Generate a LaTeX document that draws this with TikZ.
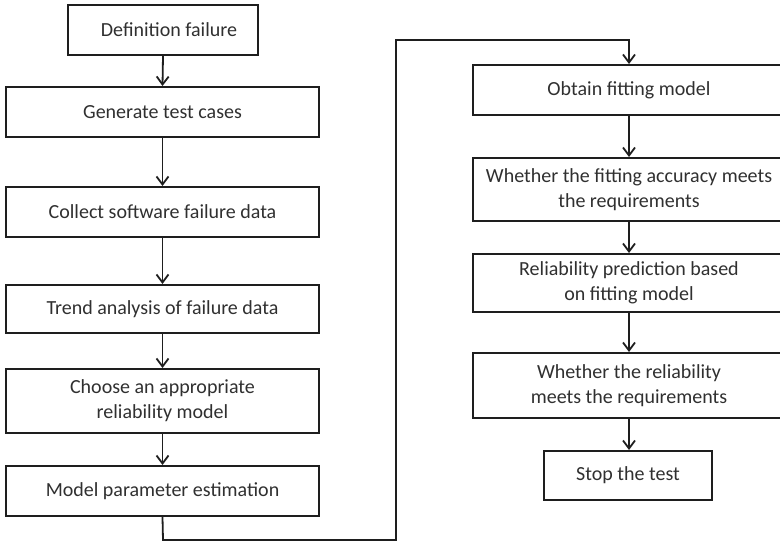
\documentclass[tikz,border=0pt]{standalone}
\usepackage{fontspec}
\setmainfont{Carlito}
\usetikzlibrary{arrows.meta}
\definecolor{txt}{HTML}{303030}
\definecolor{ln}{HTML}{1E1E1E}
\tikzset{
  box/.style={draw=ln, line width=2pt, fill=white, inner sep=0pt, align=center,
    text=txt, font=\fontsize{20}{25}\selectfont},
  conn/.style={draw=ln, line width=1.8pt},
  arr/.style={conn, -{Straight Barb[length=8pt,width=12pt,line width=1.8pt]}}
}
\begin{document}
\begin{tikzpicture}[x=1pt,y=-1pt]
\useasboundingbox (0,0) rectangle (780,545);
\clip (0,0) rectangle (780,545);
% left column
\node[box, minimum width=190pt, minimum height=50pt] (def) at (163,30) {\hspace{12pt}Definition failure};
\node[box, minimum width=313pt, minimum height=50pt] (gen) at (162.5,112) {Generate test cases};
\node[box, minimum width=313pt, minimum height=50pt] (col) at (162.5,212) {Collect software failure data};
\node[box, minimum width=313pt, minimum height=48pt] (trd) at (162.5,309) {Trend analysis of failure data};
\node[box, minimum width=313pt, minimum height=64pt] (cho) at (162.5,401) {Choose an appropriate\\reliability model};
\node[box, minimum width=313pt, minimum height=50pt] (mod) at (162.5,491) {Model parameter estimation};
% right column
\node[box, minimum width=312pt, minimum height=50pt] (obt) at (629,90) {Obtain fitting model};
\node[box, minimum width=312pt, minimum height=63pt] (wfa) at (629,189.5) {Whether the fitting accuracy meets\\the requirements};
\node[box, minimum width=312pt, minimum height=58pt] (rpr) at (629,283) {Reliability prediction based\\on fitting model};
\node[box, minimum width=312pt, minimum height=65pt] (wrl) at (629,385.5) {Whether the reliability\\meets the requirements};
\node[box, minimum width=168pt, minimum height=49pt] (stp) at (628,475.5) {Stop the test};
% connectors
\draw[arr] (def.south) -- (gen.north);
\draw[arr] (gen.south) -- (col.north);
\draw[arr] (col.south) -- (trd.north);
\draw[arr] (trd.south) -- (cho.north);
\draw[arr] (cho.south) -- (mod.north);
\coordinate (c1) at (163,540);
\coordinate (c2) at (396,540);
\coordinate (c3) at (396,40);
\coordinate (c4) at (629,40);
\draw[arr] (mod.south) -- (c1) -- (c2) -- (c3) -- (c4) -- (obt.north);
\draw[arr] (obt.south) -- (wfa.north);
\draw[arr] (wfa.south) -- (rpr.north);
\draw[arr] (rpr.south) -- (wrl.north);
\draw[arr] (wrl.south) -- (wrl.south |- stp.north);
\end{tikzpicture}
\end{document}
